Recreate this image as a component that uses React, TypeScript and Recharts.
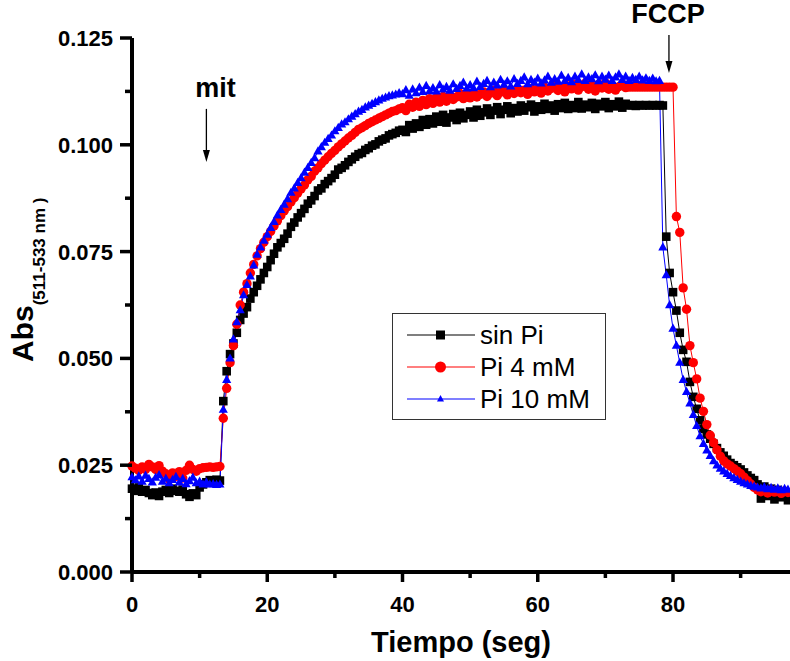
import React from 'react';
import {
  LineChart,
  Line,
  XAxis,
  YAxis,
  ReferenceDot,
} from 'recharts';

// sampling interval of the recordings (seconds)
const SAMPLE_STEP = 0.5;

// Abs (511-533 nm), one value every 0.5 s from t = 0
const SIN_PI = [
  0.0195, 0.0190, 0.0198, 0.0188, 0.0192, 0.0185, 0.0180, 0.0186, 0.0178, 0.0188,
  0.0192, 0.0185, 0.0195, 0.0190, 0.0188, 0.0193, 0.0182, 0.0176, 0.0184, 0.0180,
  0.0198, 0.0205, 0.0210, 0.0215, 0.0212, 0.0216, 0.0214, 0.0400, 0.0470, 0.0510,
  0.0535, 0.0560, 0.0590, 0.0605, 0.0620, 0.0640, 0.0655, 0.0670, 0.0685, 0.0700,
  0.0714, 0.0730, 0.0745, 0.0760, 0.0770, 0.0780, 0.0792, 0.0808, 0.0818, 0.0830,
  0.0840, 0.0850, 0.0862, 0.0870, 0.0880, 0.0893, 0.0898, 0.0908, 0.0915, 0.0922,
  0.0930, 0.0942, 0.0946, 0.0952, 0.0960, 0.0966, 0.0972, 0.0978, 0.0981, 0.0988,
  0.0992, 0.0998, 0.1001, 0.1008, 0.1012, 0.1015, 0.1022, 0.1025, 0.1028, 0.1033,
  0.1035, 0.1030, 0.1046, 0.1038, 0.1050, 0.1042, 0.1058, 0.1047, 0.1060, 0.1050,
  0.1066, 0.1054, 0.1070, 0.1052, 0.1064, 0.1072, 0.1058, 0.1075, 0.1062, 0.1070,
  0.1078, 0.1064, 0.1082, 0.1068, 0.1076, 0.1085, 0.1070, 0.1080, 0.1088, 0.1072,
  0.1082, 0.1090, 0.1074, 0.1086, 0.1078, 0.1092, 0.1080, 0.1088, 0.1094, 0.1078,
  0.1090, 0.1082, 0.1096, 0.1084, 0.1092, 0.1080, 0.1095, 0.1086, 0.1098, 0.1084,
  0.1093, 0.1086, 0.1100, 0.1085, 0.1094, 0.1088, 0.1098, 0.1084, 0.1096, 0.1090,
  0.1100, 0.1086, 0.1095, 0.1090, 0.1101, 0.1087, 0.1096, 0.1092, 0.1093, 0.1091,
  0.1093, 0.1092, 0.1093, 0.1092, 0.1093, 0.1092, 0.1093, 0.1092, 0.0785, 0.0700,
  0.0655, 0.0612, 0.0560, 0.0520, 0.0492, 0.0445, 0.0410, 0.0382, 0.0355, 0.0335,
  0.0322, 0.0312, 0.0300, 0.0290, 0.0280, 0.0272, 0.0263, 0.0255, 0.0250, 0.0245,
  0.0240, 0.0233, 0.0226, 0.0220, 0.0215, 0.0205, 0.0172, 0.0200, 0.0178, 0.0195,
  0.0170, 0.0192, 0.0175, 0.0188, 0.0168,
];

const PI_4 = [
  0.0248, 0.0243, 0.0238, 0.0246, 0.0240, 0.0252, 0.0246, 0.0240, 0.0249, 0.0236,
  0.0230, 0.0218, 0.0232, 0.0224, 0.0235, 0.0220, 0.0238, 0.0250, 0.0240, 0.0236,
  0.0242, 0.0244, 0.0245, 0.0246, 0.0245, 0.0246, 0.0247, 0.0360, 0.0430, 0.0490,
  0.0530, 0.0580, 0.0625, 0.0655, 0.0675, 0.0700, 0.0720, 0.0740, 0.0757, 0.0772,
  0.0785, 0.0797, 0.0810, 0.0822, 0.0834, 0.0845, 0.0855, 0.0866, 0.0876, 0.0887,
  0.0897, 0.0906, 0.0918, 0.0926, 0.0938, 0.0946, 0.0956, 0.0964, 0.0972, 0.0980,
  0.0987, 0.0995, 0.1002, 0.1009, 0.1016, 0.1022, 0.1029, 0.1036, 0.1040, 0.1045,
  0.1050, 0.1054, 0.1058, 0.1062, 0.1066, 0.1070, 0.1074, 0.1078, 0.1080, 0.1084,
  0.1087, 0.1080, 0.1095, 0.1088, 0.1100, 0.1090, 0.1104, 0.1094, 0.1108, 0.1097,
  0.1110, 0.1100, 0.1113, 0.1102, 0.1116, 0.1106, 0.1112, 0.1120, 0.1108, 0.1117,
  0.1110, 0.1122, 0.1112, 0.1118, 0.1124, 0.1113, 0.1121, 0.1127, 0.1115, 0.1123,
  0.1129, 0.1117, 0.1126, 0.1120, 0.1131, 0.1122, 0.1128, 0.1118, 0.1132, 0.1124,
  0.1130, 0.1121, 0.1135, 0.1126, 0.1132, 0.1140, 0.1127, 0.1134, 0.1124, 0.1138,
  0.1131, 0.1142, 0.1128, 0.1136, 0.1144, 0.1130, 0.1138, 0.1126, 0.1141, 0.1133,
  0.1145, 0.1130, 0.1139, 0.1128, 0.1136, 0.1142, 0.1134, 0.1135, 0.1135, 0.1135,
  0.1135, 0.1135, 0.1135, 0.1135, 0.1135, 0.1135, 0.1135, 0.1135, 0.1135, 0.1135,
  0.1135, 0.0832, 0.0795, 0.0665, 0.0615, 0.0530, 0.0490, 0.0452, 0.0407, 0.0376,
  0.0345, 0.0320, 0.0303, 0.0286, 0.0271, 0.0260, 0.0253, 0.0248, 0.0242, 0.0236,
  0.0230, 0.0222, 0.0214, 0.0206, 0.0198, 0.0192, 0.0188, 0.0191, 0.0185, 0.0192,
  0.0187, 0.0190, 0.0184, 0.0189, 0.0186,
];

const PI_10 = [
  0.0222, 0.0215, 0.0224, 0.0212, 0.0226, 0.0218, 0.0210, 0.0221, 0.0227, 0.0212,
  0.0219, 0.0208, 0.0216, 0.0223, 0.0210, 0.0218, 0.0206, 0.0213, 0.0221, 0.0208,
  0.0212, 0.0205, 0.0210, 0.0205, 0.0206, 0.0204, 0.0205, 0.0380, 0.0450, 0.0500,
  0.0545, 0.0585, 0.0613, 0.0648, 0.0672, 0.0692, 0.0718, 0.0743, 0.0760, 0.0776,
  0.0790, 0.0806, 0.0820, 0.0835, 0.0848, 0.0860, 0.0873, 0.0888, 0.0898, 0.0911,
  0.0922, 0.0935, 0.0946, 0.0958, 0.0969, 0.0985, 0.0995, 0.1005, 0.1014, 0.1022,
  0.1032, 0.1040, 0.1048, 0.1053, 0.1060, 0.1066, 0.1072, 0.1078, 0.1082, 0.1088,
  0.1092, 0.1096, 0.1100, 0.1104, 0.1108, 0.1111, 0.1114, 0.1116, 0.1118, 0.1121,
  0.1119, 0.1128, 0.1115, 0.1130, 0.1121, 0.1134, 0.1124, 0.1138, 0.1126, 0.1133,
  0.1125, 0.1140, 0.1130, 0.1136, 0.1127, 0.1142, 0.1131, 0.1138, 0.1146, 0.1132,
  0.1140, 0.1133, 0.1148, 0.1136, 0.1143, 0.1150, 0.1135, 0.1146, 0.1139, 0.1152,
  0.1141, 0.1149, 0.1137, 0.1154, 0.1143, 0.1150, 0.1158, 0.1142, 0.1152, 0.1146,
  0.1155, 0.1144, 0.1151, 0.1160, 0.1146, 0.1154, 0.1148, 0.1162, 0.1150, 0.1157,
  0.1147, 0.1160, 0.1152, 0.1165, 0.1150, 0.1158, 0.1154, 0.1163, 0.1149, 0.1160,
  0.1153, 0.1162, 0.1150, 0.1158, 0.1165, 0.1152, 0.1160, 0.1150, 0.1157, 0.1152,
  0.1160, 0.1151, 0.1156, 0.1150, 0.1155, 0.1149, 0.1150, 0.0760, 0.0695, 0.0625,
  0.0570, 0.0530, 0.0490, 0.0450, 0.0422, 0.0395, 0.0368, 0.0342, 0.0318, 0.0300,
  0.0285, 0.0272, 0.0260, 0.0250, 0.0242, 0.0236, 0.0230, 0.0225, 0.0220, 0.0216,
  0.0212, 0.0208, 0.0205, 0.0202, 0.0200, 0.0198, 0.0196, 0.0199, 0.0194, 0.0197,
  0.0193, 0.0196, 0.0192, 0.0195, 0.0193,
];

const X_TICKS = [0, 10, 20, 30, 40, 50, 60, 70, 80, 90];
const X_LABELS = [0, 20, 40, 60, 80];
const Y_TICKS = [0, 0.0125, 0.025, 0.0375, 0.05, 0.0625, 0.075, 0.0875, 0.1, 0.1125, 0.125];
const Y_LABELS = [0, 0.025, 0.05, 0.075, 0.1, 0.125];

const SERIES = [
  { key: 'sinPi', name: 'sin Pi', color: '#000000' },
  { key: 'pi4', name: 'Pi 4 mM', color: '#ff0000' },
  { key: 'pi10', name: 'Pi 10 mM', color: '#0000ff' },
];

const data = SIN_PI.map((v, i) => ({
  t: i * SAMPLE_STEP,
  sinPi: v,
  pi4: PI_4[i],
  pi10: PI_10[i],
}));

const FONT = '"Liberation Sans", Arial, sans-serif';

const SquareDot = (p: any) => (
  <rect key={`sq-${p.index}`} x={p.cx - 4.3} y={p.cy - 4.3} width={8.6} height={8.6} fill="#000000" />
);
const CircleDot = (p: any) => (
  <circle key={`ci-${p.index}`} cx={p.cx} cy={p.cy} r={4.7} fill="#ff0000" />
);
const TriangleDot = (p: any) => (
  <polygon
    key={`tr-${p.index}`}
    points={`${p.cx},${p.cy - 5} ${p.cx - 4.6},${p.cy + 3.2} ${p.cx + 4.6},${p.cy + 3.2}`}
    fill="#0000ff"
  />
);

const XTick = ({ x, y, payload }: any) => {
  const major = X_LABELS.includes(payload.value);
  return (
    <g>
      <line x1={x} x2={x} y1={y} y2={y + (major ? 10 : 6)} stroke="#000" strokeWidth={3.5} />
      {major && (
        <text x={x} y={y + 40} textAnchor="middle" fontFamily={FONT} fontWeight="bold" fontSize={22} fill="#000">
          {payload.value}
        </text>
      )}
    </g>
  );
};

const YTick = ({ x, y, payload }: any) => {
  const major = Y_LABELS.some((v) => Math.abs(v - payload.value) < 1e-6);
  return (
    <g>
      <line x1={x - (major ? 12 : 7)} x2={x} y1={y} y2={y} stroke="#000" strokeWidth={3.5} />
      {major && (
        <text x={x - 19} y={y + 8} textAnchor="end" fontFamily={FONT} fontWeight="bold" fontSize={22} fill="#000">
          {payload.value.toFixed(3)}
        </text>
      )}
    </g>
  );
};

const YLabel = () => (
  <text transform="rotate(-90)" x={-362} y={33} fontFamily={FONT} fontWeight="bold" fill="#000">
    <tspan fontSize={30}>Abs</tspan>
    <tspan fontSize={17} dy={12}>(511-533 nm )</tspan>
  </text>
);

const XLabel = ({ viewBox }: any) => (
  <text
    x={viewBox.x + viewBox.width / 2}
    y={viewBox.y + 80}
    textAnchor="middle"
    fontFamily={FONT}
    fontWeight="bold"
    fontSize={29}
    fill="#000"
  >
    Tiempo (seg)
  </text>
);

// arrow pointing down, tip at (cx, cy)
const arrow = (label: string, len: number, textGap: number) => (p: any) => (
  <g>
    <line x1={p.cx} x2={p.cx} y1={p.cy - len} y2={p.cy - 8} stroke="#000" strokeWidth={1.3} />
    <polygon points={`${p.cx - 3.5},${p.cy - 12} ${p.cx + 3.5},${p.cy - 12} ${p.cx},${p.cy}`} fill="#000" />
    <text
      x={p.cx + textGap}
      y={p.cy - len - 12}
      textAnchor="middle"
      fontFamily={FONT}
      fontWeight="bold"
      fontSize={27}
      fill="#000"
    >
      {label}
    </text>
  </g>
);

const LegendBox = () => (
  <div
    style={{
      position: 'absolute',
      left: 392,
      top: 313,
      width: 214,
      height: 107,
      border: '1.5px solid #333',
      boxSizing: 'border-box',
      background: '#fff',
    }}
  >
    <svg width={212} height={104}>
      {SERIES.map((s, i) => {
        const cy = 21 + i * 32;
        return (
          <g key={s.key}>
            <line x1={14} x2={82} y1={cy} y2={cy} stroke={s.color} strokeWidth={1.2} />
            {i === 0 && <rect x={43} y={cy - 4.5} width={9} height={9} fill={s.color} />}
            {i === 1 && <circle cx={47.5} cy={cy} r={5.5} fill={s.color} />}
            {i === 2 && <polygon points={`47.5,${cy - 4} 44,${cy + 2.5} 51,${cy + 2.5}`} fill={s.color} />}
            <text x={87} y={cy + 9} fontFamily={FONT} fontSize={26} fill="#000">
              {s.name}
            </text>
          </g>
        );
      })}
    </svg>
  </div>
);

export default function App() {
  return (
    <div style={{ position: 'absolute', left: 0, top: 0, width: 790, height: 661, background: '#fff' }}>
      <LineChart width={790} height={661} data={data} margin={{ top: 38, right: 0, bottom: 29, left: 0 }}>
        <XAxis
          dataKey="t"
          type="number"
          domain={[0, 97.3]}
          ticks={X_TICKS}
          interval={0}
          tickSize={0}
          tickMargin={0}
          tickLine={false}
          tick={<XTick />}
          height={60}
          axisLine={{ stroke: '#000', strokeWidth: 4 }}
          label={<XLabel />}
        />
        <YAxis
          type="number"
          domain={[0, 0.125]}
          ticks={Y_TICKS}
          interval={0}
          tickSize={0}
          tickMargin={0}
          tickLine={false}
          tick={<YTick />}
          width={132}
          axisLine={{ stroke: '#000', strokeWidth: 4 }}
          label={<YLabel />}
        />
        <Line
          dataKey="sinPi"
          name="sin Pi"
          type="linear"
          stroke="#000000"
          strokeWidth={1}
          dot={SquareDot}
          activeDot={false}
          isAnimationActive={false}
        />
        <Line
          dataKey="pi4"
          name="Pi 4 mM"
          type="linear"
          stroke="#ff0000"
          strokeWidth={1}
          dot={CircleDot}
          activeDot={false}
          isAnimationActive={false}
        />
        <Line
          dataKey="pi10"
          name="Pi 10 mM"
          type="linear"
          stroke="#0000ff"
          strokeWidth={1}
          dot={TriangleDot}
          activeDot={false}
          isAnimationActive={false}
        />
        <ReferenceDot x={11} y={0.096} ifOverflow="visible" shape={arrow('mit', 53, 9)} />
        <ReferenceDot x={79.4} y={0.1168} ifOverflow="visible" shape={arrow('FCCP', 38, -1)} />
      </LineChart>
      <LegendBox />
    </div>
  );
}
